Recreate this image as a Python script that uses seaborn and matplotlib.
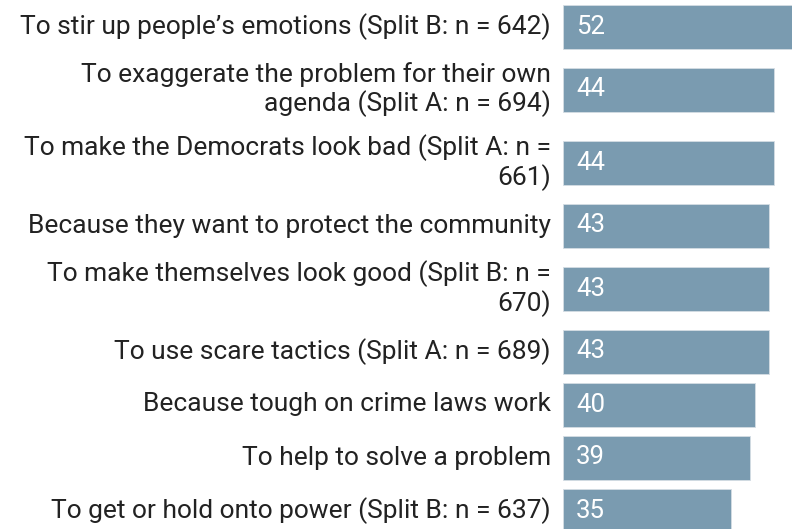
import numpy as np
import pandas as pd
import matplotlib
matplotlib.use("Agg")
import matplotlib.pyplot as plt
import seaborn as sns

labels = [
    "To stir up people\u2019s emotions (Split B: n = 642)",
    "To exaggerate the problem for their own\nagenda (Split A: n = 694)",
    "To make the Democrats look bad (Split A: n =\n661)",
    "Because they want to protect the community",
    "To make themselves look good (Split B: n =\n670)",
    "To use scare tactics (Split A: n = 689)",
    "Because tough on crime laws work",
    "To help to solve a problem",
    "To get or hold onto power (Split B: n = 637)",
]
values = [52, 44, 44, 43, 43, 43, 40, 39, 35]

# row layout: one-line rows are 53 px tall, each extra label line adds 20 px
row_h = [53 + 20 * lab.count("\n") for lab in labels]
pos = np.cumsum(row_h) - np.array(row_h) / 2

df = pd.DataFrame({"label": labels, "value": values, "pos": pos})

sns.set_style("white")
plt.rcParams["font.family"] = ["Roboto", "DejaVu Sans"]

W, H = 792, 529
fig = plt.figure(figsize=(W / 100, H / 100), dpi=100)
ax = fig.add_axes([563 / W, 0, (W - 563) / W, 1])

sns.barplot(data=df, x="value", y="pos", orient="y", native_scale=True,
            color="#7a9bb0", saturation=1, width=44 / 53,
            edgecolor="#d4dde4", linewidth=0.6, ax=ax)

ax.set_xlim(0, (W - 563) / 4.8)
ax.set_ylim(H, 0)
ax.axis("off")

for lab, v, y in zip(labels, values, pos):
    ax.annotate(lab, xy=(0, y), xytext=(-12, 0), textcoords="offset pixels",
                ha="right", va="center", multialignment="right",
                fontsize=19, color="#222222", linespacing=1.15,
                annotation_clip=False)
    ax.annotate(str(v), xy=(0, y), xytext=(13, 0), textcoords="offset pixels",
                ha="left", va="center", fontsize=18.5, color="white")

fig.savefig("out.png", dpi=100)
